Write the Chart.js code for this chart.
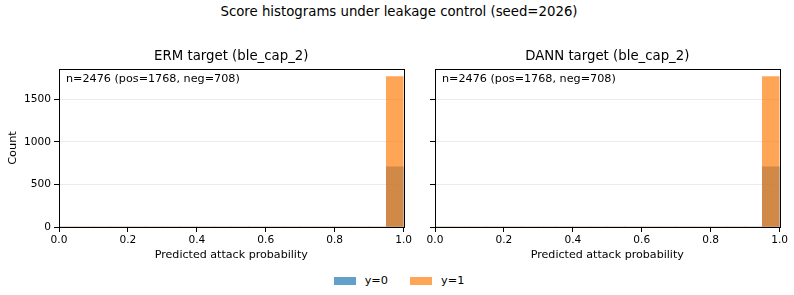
<!DOCTYPE html>
<html>
<head>
<meta charset="utf-8">
<script src="https://cdn.jsdelivr.net/npm/chart.js@4.4.1/dist/chart.umd.min.js"></script>
<style>
  html, body { margin: 0; padding: 0; background: #fff; }
  body { width: 794px; height: 295px; position: relative; overflow: hidden;
         font-family: "DejaVu Sans", sans-serif; color: #000; }
  #suptitle { position: absolute; left: 0; width: 798px; top: 4px; text-align: center; font-size: 13.3px; }
  .panel { position: absolute; top: 40px; width: 414px; height: 227px; }
  #pLeft  { left: 0; }
  #pRight { left: 376px; }
  #legend { position: absolute; top: 274px; left: 0; width: 798px; display: flex;
            justify-content: center; font-size: 11.3px; gap: 22px; }
  .item { display: flex; align-items: center; gap: 9px; }
  .sw { width: 22px; height: 8px; display: inline-block; }
</style>
</head>
<body>
<div id="suptitle">Score histograms under leakage control (seed=2026)</div>
<div class="panel" id="pLeft"><canvas id="chartERM"></canvas></div>
<div class="panel" id="pRight"><canvas id="chartDANN"></canvas></div>
<div id="legend">
  <div class="item"><span class="sw" style="background:rgba(31,119,180,0.7)"></span>y=0</div>
  <div class="item"><span class="sw" style="background:rgba(255,127,14,0.7)"></span>y=1</div>
</div>
<script>
// ── Data ──────────────────────────────────────────────────
const binCenters = [0.025, 0.075, 0.125, 0.175, 0.225, 0.275, 0.325, 0.375, 0.425, 0.475,
                    0.525, 0.575, 0.625, 0.675, 0.725, 0.775, 0.825, 0.875, 0.925, 0.975];
const ermNeg  = [0, 0, 0, 0, 0, 0, 0, 0, 0, 0, 0, 0, 0, 0, 0, 0, 0, 0, 0, 708];
const ermPos  = [0, 0, 0, 0, 0, 0, 0, 0, 0, 0, 0, 0, 0, 0, 0, 0, 0, 0, 0, 1768];
const dannNeg = [0, 0, 0, 0, 0, 0, 0, 0, 0, 0, 0, 0, 0, 0, 0, 0, 0, 0, 0, 708];
const dannPos = [0, 0, 0, 0, 0, 0, 0, 0, 0, 0, 0, 0, 0, 0, 0, 0, 0, 0, 0, 1768];
const xTicks  = [0, 0.2, 0.4, 0.6, 0.8, 1.0];
const yTicks  = [0, 500, 1000, 1500];
const yMax    = 1768 * 1.05;

const FONT = '"DejaVu Sans", sans-serif';

// full box around the plot area, panel title centred on it, and the count note
const frame = {
  id: 'frame',
  afterDraw(chart, args, opts) {
    const { ctx, chartArea: a } = chart;
    ctx.save();
    ctx.strokeStyle = '#000';
    ctx.lineWidth = 1;
    ctx.strokeRect(Math.round(a.left) + 0.5, Math.round(a.top) + 0.5,
                   Math.round(a.right - a.left), Math.round(a.bottom - a.top));
    ctx.fillStyle = '#000';
    ctx.textBaseline = 'middle';
    ctx.font = '11.2px ' + FONT;
    ctx.textAlign = 'left';
    ctx.fillText(opts.note, a.left + 7, a.top + 10);
    ctx.font = '13.3px ' + FONT;
    ctx.textAlign = 'center';
    ctx.fillText(opts.title, (a.left + a.right) / 2, a.top - 12);
    ctx.restore();
  }
};

function makeChart(id, title, neg, pos, showY) {
  const toPts = arr => arr.map((v, i) => ({ x: binCenters[i], y: v }));
  return new Chart(document.getElementById(id), {
    type: 'bar',
    data: {
      datasets: [
        { label: 'y=1', data: toPts(pos), backgroundColor: 'rgba(255,127,14,0.7)', order: 0 },
        { label: 'y=0', data: toPts(neg), backgroundColor: 'rgba(31,119,180,0.7)', order: 1 },
      ],
    },
    options: {
      responsive: true,
      maintainAspectRatio: false,
      animation: false,
      layout: { padding: { left: 0, right: 10, top: 29, bottom: 0 } },
      datasets: { bar: { grouped: false, barPercentage: 1, categoryPercentage: 1, borderWidth: 0 } },
      scales: {
        x: {
          type: 'linear', min: 0, max: 1, offset: false,
          afterBuildTicks: s => { s.ticks = xTicks.map(v => ({ value: v })); },
          afterFit: s => { s.height = 40; },
          grid: { offset: false, drawOnChartArea: false, drawTicks: true, tickLength: 5, tickColor: '#000', color: '#000' },
          border: { display: false },
          ticks: { color: '#000', font: { family: FONT, size: 10.6 }, padding: 2, maxRotation: 0,
                   callback: v => v.toFixed(1) },
          title: { display: true, text: 'Predicted attack probability', color: '#000',
                   font: { family: FONT, size: 11.1 }, padding: { top: 0, bottom: 5 } },
        },
        y: {
          min: 0, max: yMax,
          afterBuildTicks: s => { s.ticks = yTicks.map(v => ({ value: v })); },
          afterFit: s => { s.width = 59; },
          grid: { color: 'rgba(0,0,0,0.08)', tickColor: '#000', tickLength: 5 },
          border: { display: false },
          ticks: { display: showY, color: '#000', font: { family: FONT, size: 10.6 }, padding: 3,
                   callback: v => String(v) },
          title: { display: showY, text: 'Count', color: '#000',
                   font: { family: FONT, size: 11.3 }, padding: { top: 6, bottom: 0 } },
        },
      },
      plugins: {
        legend: { display: false },
        tooltip: { enabled: false },
        frame: { note: 'n=2476 (pos=1768, neg=708)', title },
      },
    },
    plugins: [frame],
  });
}

makeChart('chartERM',  'ERM target (ble_cap_2)',  ermNeg,  ermPos,  true);
makeChart('chartDANN', 'DANN target (ble_cap_2)', dannNeg, dannPos, false);
</script>
</body>
</html>
